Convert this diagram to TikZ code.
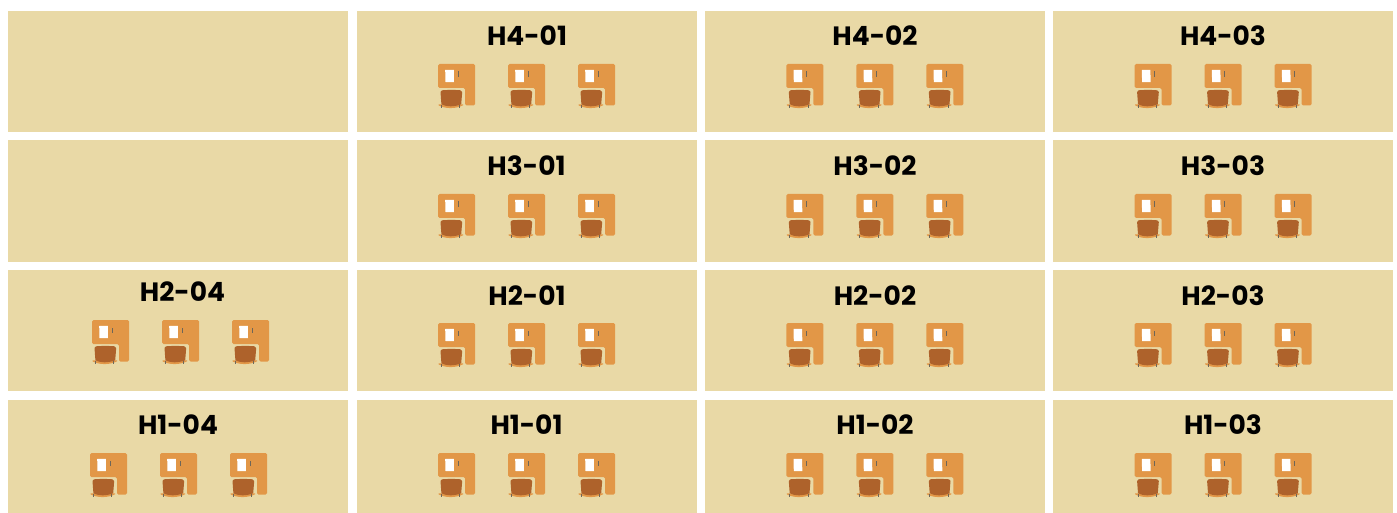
\documentclass[tikz,border=0pt]{standalone}
\usepackage{fontspec}
\setmainfont{Poppins}[BoldFont={* Bold}]
\definecolor{panel}{HTML}{E9D9A6}
\definecolor{desk}{HTML}{E29747}
\definecolor{seat}{HTML}{AE622B}
\definecolor{legs}{HTML}{6E6658}
\tikzset{
 x=1pt,y=-1pt,
 panelbox/.style={fill=panel,draw=none},
 title/.style={font=\fontsize{26.5}{26.5}\selectfont\bfseries,text=black,inner sep=0pt,anchor=center},
 deskpic/.pic={
  \fill[desk,rounded corners=1.5] (0,0) -- (37,0) -- (37,41.5) -- (27,41.5) -- (27,24) -- (0,24) -- cycle;
  \fill[white] (7.2,6) -- (15.8,5.8) -- (16,18.2) -- (7.5,18.2) -- cycle;
  \fill[legs] (19.6,7.5) rectangle (20.5,13);
  \fill[desk] (0.5,40.3) -- (25,40.3) -- (25,41.3) .. controls (18,45) and (7,45) .. (0.5,41.3) -- cycle;
  \fill[legs] (3,41.3) rectangle (3.8,44);
  \fill[legs] (21.4,41.3) rectangle (22.2,44);
  \fill[seat] (4,26.3) .. controls (9,25.8) and (18,25.8) .. (22.5,26.3) .. controls (23.8,26.5) and (24.3,27) .. (24.2,28)
    -- (23.2,40.3) .. controls (16,43) and (9,43) .. (3.4,40.3) -- (2.5,28) .. controls (2.4,27) and (2.7,26.5) .. (4,26.3) -- cycle;
 },
 trio/.pic={
  \pic at (0,0) {deskpic};
  \pic at (70,0) {deskpic};
  \pic at (140,0) {deskpic};
 }
}
\begin{document}
\begin{tikzpicture}
\useasboundingbox (0,0) rectangle (1397,513);
\fill[white] (0,0) rectangle (1397,513);
% row 4
\fill[panelbox] (8,11) rectangle (348,132);
\fill[panelbox] (357,11) rectangle (697,132);
\fill[panelbox] (705,11) rectangle (1045,132);
\fill[panelbox] (1053,11) rectangle (1393,132);
% row 3
\fill[panelbox] (8,140) rectangle (348,262);
\fill[panelbox] (357,140) rectangle (697,262);
\fill[panelbox] (705,140) rectangle (1045,262);
\fill[panelbox] (1053,140) rectangle (1393,262);
% row 2
\fill[panelbox] (8,270) rectangle (348,391);
\fill[panelbox] (357,270) rectangle (697,391);
\fill[panelbox] (705,270) rectangle (1045,391);
\fill[panelbox] (1053,270) rectangle (1393,391);
% row 1
\fill[panelbox] (8,400) rectangle (348,513);
\fill[panelbox] (357,400) rectangle (697,513);
\fill[panelbox] (705,400) rectangle (1045,513);
\fill[panelbox] (1053,400) rectangle (1393,513);
% titles
\node[title] (t41) at (527,35.5) {H4-01};
\node[title] (t42) at (875,35.5) {H4-02};
\node[title] (t43) at (1223,35.5) {H4-03};
\node[title] (t31) at (526.5,165.5) {H3-01};
\node[title] (t32) at (875,165.5) {H3-02};
\node[title] (t33) at (1223,165.5) {H3-03};
\node[title] (t24) at (182.5,291.5) {H2-04};
\node[title] (t21) at (527,295.5) {H2-01};
\node[title] (t22) at (875,295.5) {H2-02};
\node[title] (t23) at (1223,295.5) {H2-03};
\node[title] (t14) at (178,424.5) {H1-04};
\node[title] (t11) at (526.5,424.5) {H1-01};
\node[title] (t12) at (875,424.5) {H1-02};
\node[title] (t13) at (1223,424.5) {H1-03};
% desks
\pic at (438,64) {trio};
\pic at (786.3,64) {trio};
\pic at (1134.6,64) {trio};
\pic at (438,194) {trio};
\pic at (786.3,194) {trio};
\pic at (1134.6,194) {trio};
\pic at (92,320) {trio};
\pic at (438,323) {trio};
\pic at (786.3,323) {trio};
\pic at (1134.6,323) {trio};
\pic at (90,453) {trio};
\pic at (438,453) {trio};
\pic at (786.3,453) {trio};
\pic at (1134.6,453) {trio};
\end{tikzpicture}
\end{document}
